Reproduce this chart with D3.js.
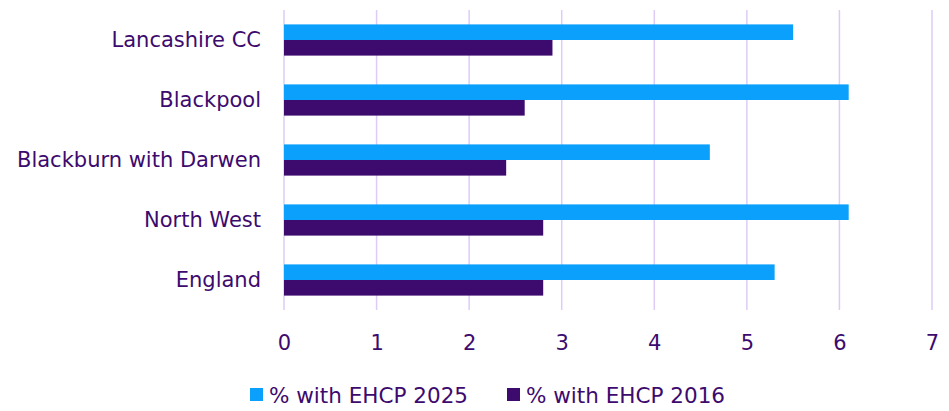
<!DOCTYPE html>
<html>
<head>
<meta charset="utf-8">
<script src="https://cdn.jsdelivr.net/npm/d3@7"></script>
<style>
  body { margin: 0; background: #fff; }
  text { font-family: "DejaVu Sans", Verdana, sans-serif; fill: #3d0a6e; }
</style>
</head>
<body>
<div id="chart"></div>
<script>
// data
const areas = ["Lancashire CC", "Blackpool", "Blackburn with Darwen", "North West", "England"];
const ehcp2025 = [5.5, 6.1, 4.6, 6.1, 5.3];
const ehcp2016 = [2.9, 2.6, 2.4, 2.8, 2.8];
const seriesNames = ["% with EHCP 2025", "% with EHCP 2016"];
const seriesColors = ["#0aa0fc", "#3d0a6e"];
const xTicks = [0, 1, 2, 3, 4, 5, 6, 7];

const W = 949, H = 411;
const margin = {top: 10, right: 17, bottom: 101, left: 284};
const width = W - margin.left - margin.right;
const height = H - margin.top - margin.bottom;

const svg = d3.select("#chart").append("svg")
    .attr("width", W)
    .attr("height", H);

const g = svg.append("g")
    .attr("transform", `translate(${margin.left},${margin.top})`);

// scales
const x = d3.scaleLinear().domain([0, 7]).range([0, width]);
const y = d3.scaleBand().domain(areas).range([0, height]).paddingInner(0.48).paddingOuter(0.24);
const ySub = d3.scaleBand().domain(seriesNames).range([0, y.bandwidth()]);

// gridlines
g.selectAll(".grid")
    .data(xTicks)
    .enter().append("line")
    .attr("class", "grid")
    .attr("x1", d => x(d)).attr("x2", d => x(d))
    .attr("y1", 0).attr("y2", height)
    .attr("stroke", "#dcccf6")
    .attr("stroke-width", 1.5);

// bars
const rows = areas.map((a, i) => ({area: a, vals: [ehcp2025[i], ehcp2016[i]]}));
const grp = g.selectAll(".row")
    .data(rows)
    .enter().append("g")
    .attr("transform", d => `translate(0,${y(d.area)})`);

grp.selectAll("rect")
    .data(d => d.vals.map((v, j) => ({key: seriesNames[j], v: v, c: seriesColors[j]})))
    .enter().append("rect")
    .attr("x", x(0))
    .attr("y", d => ySub(d.key))
    .attr("width", d => x(d.v) - x(0))
    .attr("height", ySub.bandwidth())
    .attr("fill", d => d.c);

// x axis
const xAxis = g.append("g")
    .attr("transform", `translate(0,${height})`)
    .call(d3.axisBottom(x).tickValues(xTicks).tickFormat(d3.format("d")).tickSize(0).tickPadding(25));
xAxis.select(".domain").remove();
xAxis.selectAll("text").style("font-size", "21px");

// y axis
const yAxis = g.append("g")
    .call(d3.axisLeft(y).tickSize(0).tickPadding(23));
yAxis.select(".domain").remove();
yAxis.selectAll("text").style("font-size", "21px");

// legend
const legend = svg.append("g").attr("transform", "translate(250,395)");
const item = legend.selectAll(".item")
    .data(seriesNames)
    .enter().append("g")
    .attr("transform", (d, i) => `translate(${i * 257},0)`);
item.append("rect")
    .attr("x", 0).attr("y", -7)
    .attr("width", 13).attr("height", 13)
    .attr("fill", (d, i) => seriesColors[i]);
item.append("text")
    .attr("x", 19).attr("dy", "0.35em")
    .style("font-size", "21.5px")
    .text(d => d);
</script>
</body>
</html>
